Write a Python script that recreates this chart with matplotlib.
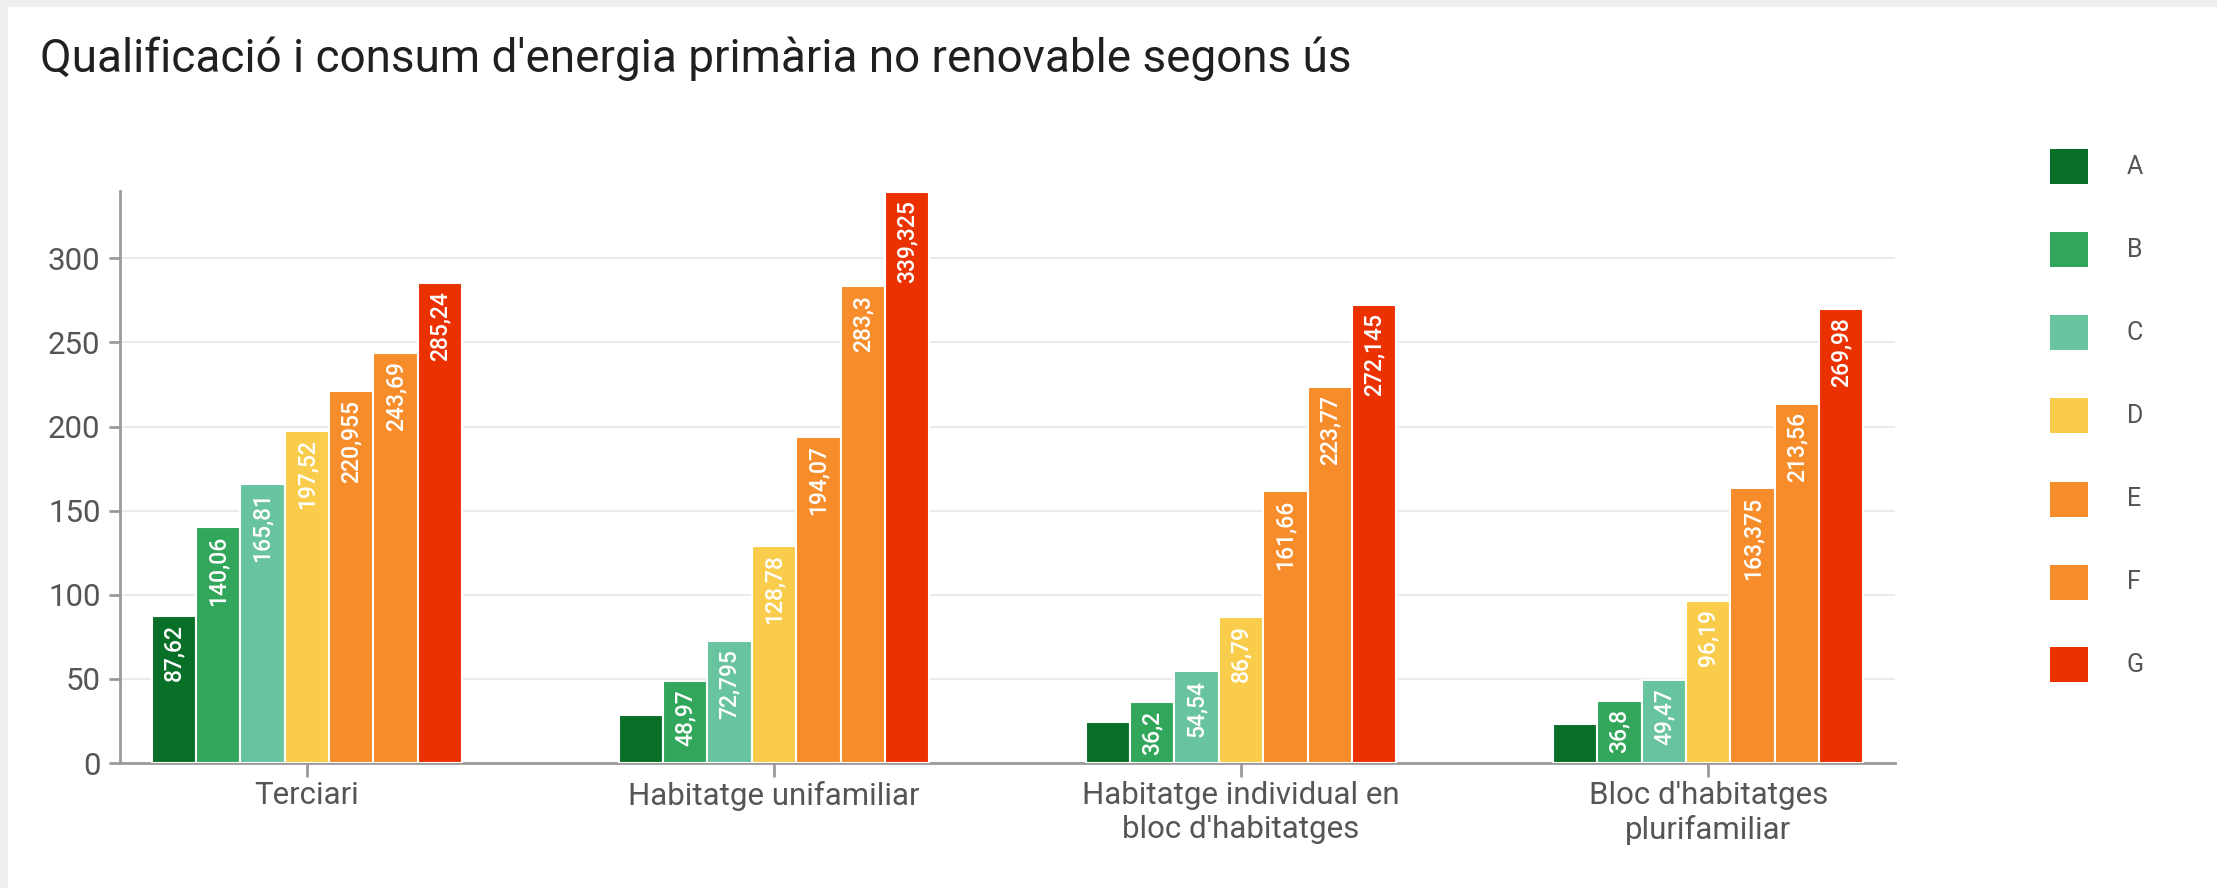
import matplotlib
matplotlib.use("Agg")
import matplotlib.pyplot as plt
from matplotlib.patches import Rectangle
import numpy as np

plt.rcParams['font.family'] = ['Roboto', 'DejaVu Sans']

categories = ["Terciari", "Habitatge unifamiliar",
              "Habitatge individual en\nbloc d'habitatges",
              "Bloc d'habitatges\nplurifamiliar"]
series = ["A", "B", "C", "D", "E", "F", "G"]
colors = ["#086f27", "#32a65a", "#67c49f", "#f9cd4b", "#f78c2a", "#f78c2a", "#eb3100"]

val_A = [87.62, 28.5, 24.5, 23.2]
val_B = [140.06, 48.97, 36.2, 36.8]
val_C = [165.81, 72.795, 54.54, 49.47]
val_D = [197.52, 128.78, 86.79, 96.19]
val_E = [220.955, 194.07, 161.66, 163.375]
val_F = [243.69, 283.3, 223.77, 213.56]
val_G = [285.24, 339.325, 272.145, 269.98]
values = [val_A, val_B, val_C, val_D, val_E, val_F, val_G]

yticks = [0, 50, 100, 150, 200, 250, 300]

W, H = 2217, 888
fig = plt.figure(figsize=(W / 100, H / 100), dpi=100, facecolor="#efefef")
# white card with a thin grey frame at top and left
fig.patches.append(Rectangle((8 / W, 0), 1, 1 - 7 / H, transform=fig.transFigure,
                             facecolor="white", edgecolor="none", zorder=-1))

ax = fig.add_axes([120 / W, 1 - 763 / H, (1895 - 120) / W, (763 - 191) / H])
ax.set_facecolor("none")
ax.set_zorder(2)

x = np.arange(len(categories))
w = 0.095
for i, (name, vals) in enumerate(zip(series, values)):
    pos = x + (i - 3) * w
    ax.bar(pos, vals, width=w, color=colors[i], edgecolor="white", linewidth=1.5,
           label=name, zorder=3)
    for px, v in zip(pos, vals):
        if v < 30:
            continue
        ax.annotate(f"{v:g}".replace(".", ","), (px, v), xytext=(0, -6),
                    textcoords="offset points", rotation=90, ha="center", va="top",
                    color="white", fontsize=16.5, fontweight="medium", zorder=4)

ax.set_xlim(-0.4, 3.4)
ax.set_ylim(0, 340)
ax.set_yticks(yticks)
ax.set_xticks(x)
ax.set_xticklabels(categories)
ax.grid(axis="y", color="#ebebeb", linewidth=1.5, zorder=0)
for s in ["top", "right"]:
    ax.spines[s].set_visible(False)
for s in ["left", "bottom"]:
    ax.spines[s].set_color("#9a9a9a")
    ax.spines[s].set_linewidth(2)
ax.tick_params(axis="both", colors="#9a9a9a", width=2, labelsize=22.5,
               labelcolor="#555555")
ax.tick_params(axis="x", length=10, pad=3)
ax.tick_params(axis="y", length=8, pad=6)

fig.text(40 / W, 1 - 59 / H, "Qualificació i consum d'energia primària no renovable segons ús",
         fontsize=33, color="#202020", va="center", ha="left")

# legend drawn by hand: one square + letter per series
for i, name in enumerate(series):
    yc = 167 + 83 * i
    fig.patches.append(Rectangle((2050 / W, 1 - (yc + 17.5) / H), 38 / W, 35 / H,
                                 transform=fig.transFigure, facecolor=colors[i],
                                 edgecolor="none"))
    fig.text(2127 / W, 1 - yc / H, name, fontsize=18, color="#555555",
             va="center", ha="left")

fig.savefig("out.png", dpi=100, facecolor=fig.get_facecolor())
